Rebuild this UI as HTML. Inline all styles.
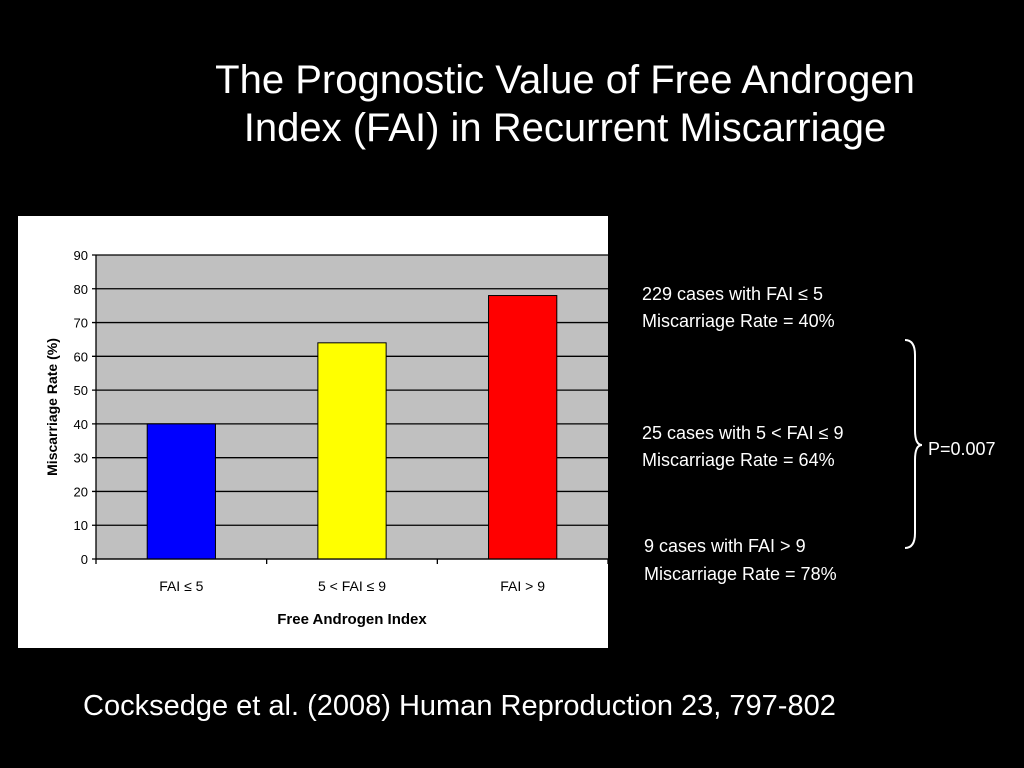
<!DOCTYPE html>
<html><head><meta charset="utf-8"><style>
body{margin:0;width:1024px;height:768px;background:#000;overflow:hidden;font-family:"Liberation Sans",sans-serif;position:relative}
.t{position:absolute;color:#fff}
</style></head><body>
<div class="t" style="left:0;top:56px;width:1130px;text-align:center;font-size:40px;line-height:48px">The Prognostic Value of Free Androgen<br>Index (FAI) in Recurrent Miscarriage</div>
<svg style="position:absolute;left:18px;top:216px" width="590" height="432" id="chart"></svg>
<div class="t" style="left:642px;top:281px;font-size:18px;line-height:27px">229 cases with FAI ≤ 5<br>Miscarriage Rate = 40%</div>
<div class="t" style="left:642px;top:420px;font-size:18px;line-height:27px">25 cases with 5 &lt; FAI ≤ 9<br>Miscarriage Rate = 64%</div>
<div class="t" style="left:644px;top:532px;font-size:18px;line-height:28px">9 cases with FAI &gt; 9<br>Miscarriage Rate = 78%</div>
<svg style="position:absolute;left:900px;top:335px" width="30" height="220"><path d="M5 5 Q15 5 15 20 L15 95 Q15 110 22 110 Q15 110 15 125 L15 198 Q15 213 5 213" fill="none" stroke="#fff" stroke-width="2"/></svg>
<div class="t" style="left:928px;top:439px;font-size:18px">P=0.007</div>
<div class="t" style="left:83px;top:690px;font-size:29px">Cocksedge et al. (2008) Human Reproduction 23, 797-802</div>
<script>
const categories=["FAI ≤ 5","5 < FAI ≤ 9","FAI > 9"];
const values=[40,64,78];
const colors=["#0000ff","#ffff00","#ff0000"];
const ticks=[0,10,20,30,40,50,60,70,80,90];
const svg=document.getElementById('chart');
const NS='http://www.w3.org/2000/svg';
const L=78,R=590,T=39,B=343,MAX=90;
const y=v=>B-(v/MAX)*(B-T);
const cw=(R-L)/categories.length;
const x=i=>L+i*cw;
function mk(t,a,txt){const e=document.createElementNS(NS,t);for(const k in a)e.setAttribute(k,a[k]);if(txt!=null)e.textContent=txt;svg.appendChild(e);return e;}
let e=mk('rect',{x:0,y:0,width:590,height:432,fill:'#fff'});


e=mk('rect',{x:L,y:T,width:R-L,height:B-T,fill:'#c0c0c0'});


ticks.forEach(t=>{
 e=mk('line',{x1:L-4,x2:R,y1:y(t),y2:y(t),stroke:'#000','stroke-width':1.3});
 
 
 e=mk('text',{x:L-8,y:y(t)+5,'text-anchor':'end','font-size':13,fill:'#000'},t);
 
 
});
values.forEach((v,i)=>{
 const bw=cw*0.4;
 e=mk('rect',{x:x(i)+(cw-bw)/2,y:y(v),width:bw,height:B-y(v),fill:colors[i],stroke:'#000','stroke-width':1});
 
 
 e=mk('text',{x:x(i)+cw/2,y:B+32,'text-anchor':'middle','font-size':14,fill:'#000'},categories[i]);
 
 
});
for(let i=0;i<=categories.length;i++){
 e=mk('line',{x1:x(i),x2:x(i),y1:B,y2:B+5,stroke:'#000','stroke-width':1.3});
 
 
}
e=mk('line',{x1:L,x2:L,y1:T,y2:B,stroke:'#000','stroke-width':1.3});


e=mk('line',{x1:L,x2:R,y1:B,y2:B,stroke:'#000','stroke-width':1.3});


e=mk('text',{x:(L+R)/2,y:408,'text-anchor':'middle','font-size':15,'font-weight':'bold',fill:'#000'},'Free Androgen Index');


e=mk('text',{x:0,y:0,transform:'translate(39,191) rotate(-90)','text-anchor':'middle','font-size':14,'font-weight':'bold',fill:'#000'},'Miscarriage Rate (%)');


</script>
</body></html>
